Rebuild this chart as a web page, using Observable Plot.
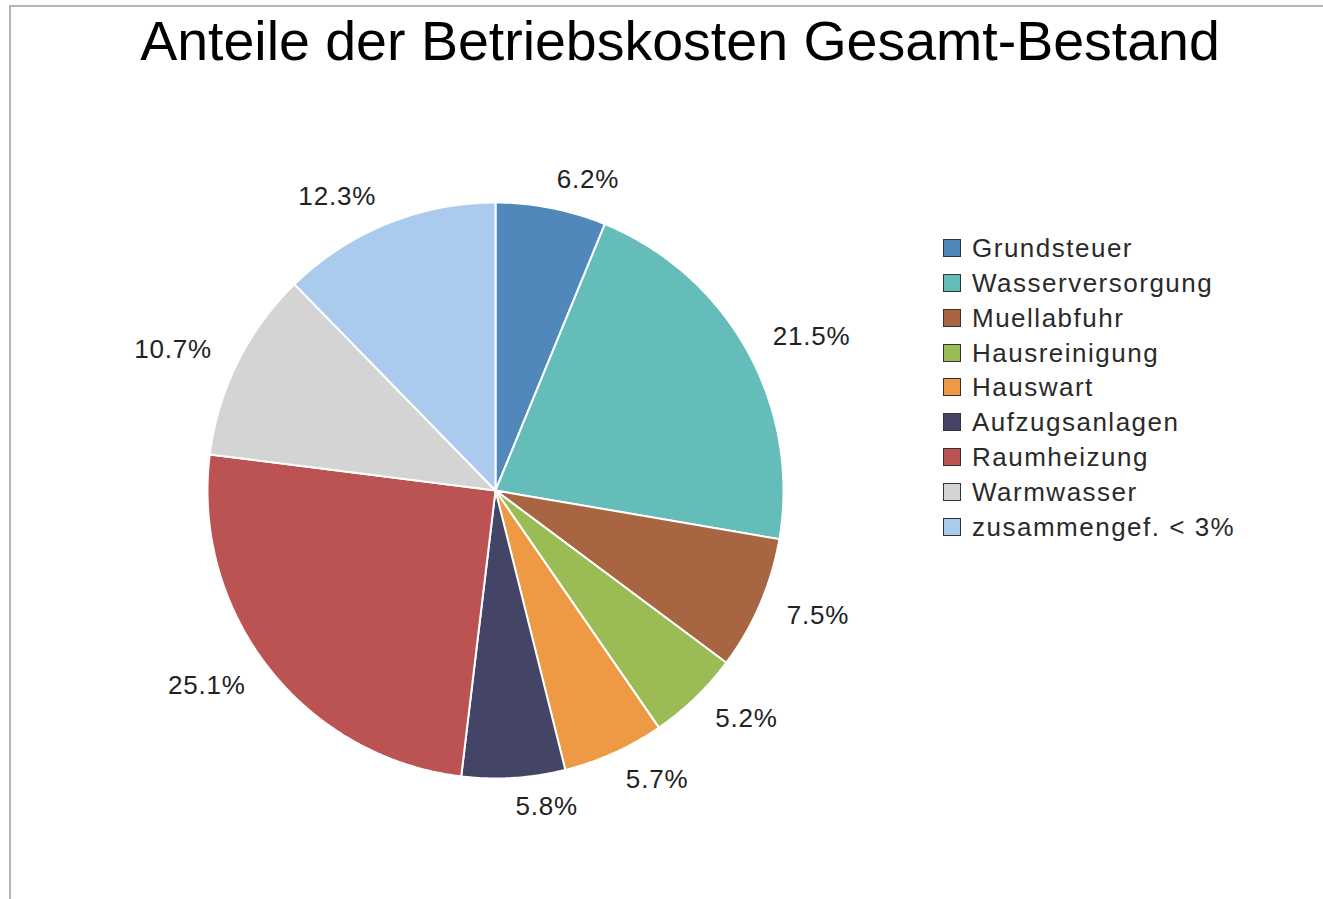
<!DOCTYPE html>
<html>
<head>
<meta charset="utf-8">
<script src="https://cdn.jsdelivr.net/npm/d3@7"></script>
<script src="https://cdn.jsdelivr.net/npm/@observablehq/plot@0.6"></script>
<style>
  html, body { margin: 0; padding: 0; background: #fff; }
  #page { position: relative; width: 1323px; height: 899px; overflow: hidden; font-family: "Liberation Sans", Arial, sans-serif; }
  #frame { position: absolute; left: 9px; top: 5px; width: 1400px; height: 1000px; border-left: 2px solid #b4b4b4; border-top: 2px solid #b4b4b4; }
  #title { position: absolute; left: 0; top: 14px; width: 1360px; text-align: center; font-size: 55.5px; line-height: 55.5px; color: #000; white-space: nowrap; }
  #chart { position: absolute; left: 0; top: 100px; }
  #legend { position: absolute; left: 943px; top: 0; }
  .row { position: absolute; left: 0; width: 400px; height: 30px; }
  .sw { position: absolute; left: 0; top: 6px; width: 16px; height: 16px; border: 1.5px solid #333; }
  .lb { position: absolute; left: 29px; top: 0; font-size: 26px; line-height: 30px; letter-spacing: 1.5px; color: #2a2a2a; white-space: nowrap; }
</style>
</head>
<body>
<div id="page">
  <div id="frame"></div>
  <div id="title">Anteile der Betriebskosten Gesamt-Bestand</div>
  <div id="chart"></div>
  <div id="legend"></div>
</div>
<script>
const categories = ["Grundsteuer", "Wasserversorgung", "Muellabfuhr", "Hausreinigung", "Hauswart", "Aufzugsanlagen", "Raumheizung", "Warmwasser", "zusammengef. < 3%"];
const values = [6.2, 21.5, 7.5, 5.2, 5.7, 5.8, 25.1, 10.7, 12.3];
const colors = ["#5088BC", "#65BDBA", "#A86541", "#9BBB55", "#EE9A44", "#444466", "#BB5353", "#D4D4D4", "#AACBEE"];
const labels = ["6.2%", "21.5%", "7.5%", "5.2%", "5.7%", "5.8%", "25.1%", "10.7%", "12.3%"];

// build slices (angles measured clockwise from top)
const total = d3.sum(values);
let acc = 0;
const slices = values.map((v, i) => {
  const a0 = acc / total * 2 * Math.PI;
  acc += v;
  const a1 = acc / total * 2 * Math.PI;
  return {cat: categories[i], label: labels[i], a0, a1, mid: (a0 + a1) / 2};
});

const pts = [];
for (const s of slices) {
  pts.push({cat: s.cat, x: 0, y: 0});
  const n = Math.max(4, Math.ceil((s.a1 - s.a0) / 0.01));
  for (let k = 0; k <= n; k++) {
    const a = s.a0 + (s.a1 - s.a0) * k / n;
    pts.push({cat: s.cat, x: Math.sin(a), y: Math.cos(a)});
  }
}

const LR = 1.1;
const lab = slices.map(s => ({label: s.label, x: LR * Math.sin(s.mid), y: LR * Math.cos(s.mid), right: Math.sin(s.mid) >= 0}));

const W = 1323, H = 799, R = 288, CX = 495, CY = 390;
const chart = Plot.plot({
  width: W, height: H,
  margin: 0,
  x: {domain: [-CX / R, (W - CX) / R], axis: null},
  y: {domain: [-(H - CY) / R, CY / R], axis: null},
  color: {domain: categories, range: colors},
  style: {fontFamily: "'Liberation Sans', Arial, sans-serif", background: "transparent"},
  marks: [
    Plot.line(pts, {x: "x", y: "y", z: "cat", fill: "cat", stroke: "white", strokeWidth: 2, curve: "linear-closed"}),
    Plot.text(lab.filter(d => d.right), {x: "x", y: "y", text: "label", textAnchor: "start", fontSize: 26, fill: "#222", style: "letter-spacing:0.8px"}),
    Plot.text(lab.filter(d => !d.right), {x: "x", y: "y", text: "label", textAnchor: "end", fontSize: 26, fill: "#222"})
  ]
});
chart.querySelectorAll("text").forEach(t => t.style.letterSpacing = "0.8px");
document.getElementById("chart").appendChild(chart);

const legend = document.getElementById("legend");
categories.forEach((c, i) => {
  const row = document.createElement("div");
  row.className = "row";
  row.style.top = (248 + 34.85 * i - 15) + "px";
  const sw = document.createElement("div");
  sw.className = "sw";
  sw.style.background = colors[i];
  const lb = document.createElement("div");
  lb.className = "lb";
  lb.textContent = c;
  row.appendChild(sw); row.appendChild(lb);
  legend.appendChild(row);
});
</script>
</body>
</html>
